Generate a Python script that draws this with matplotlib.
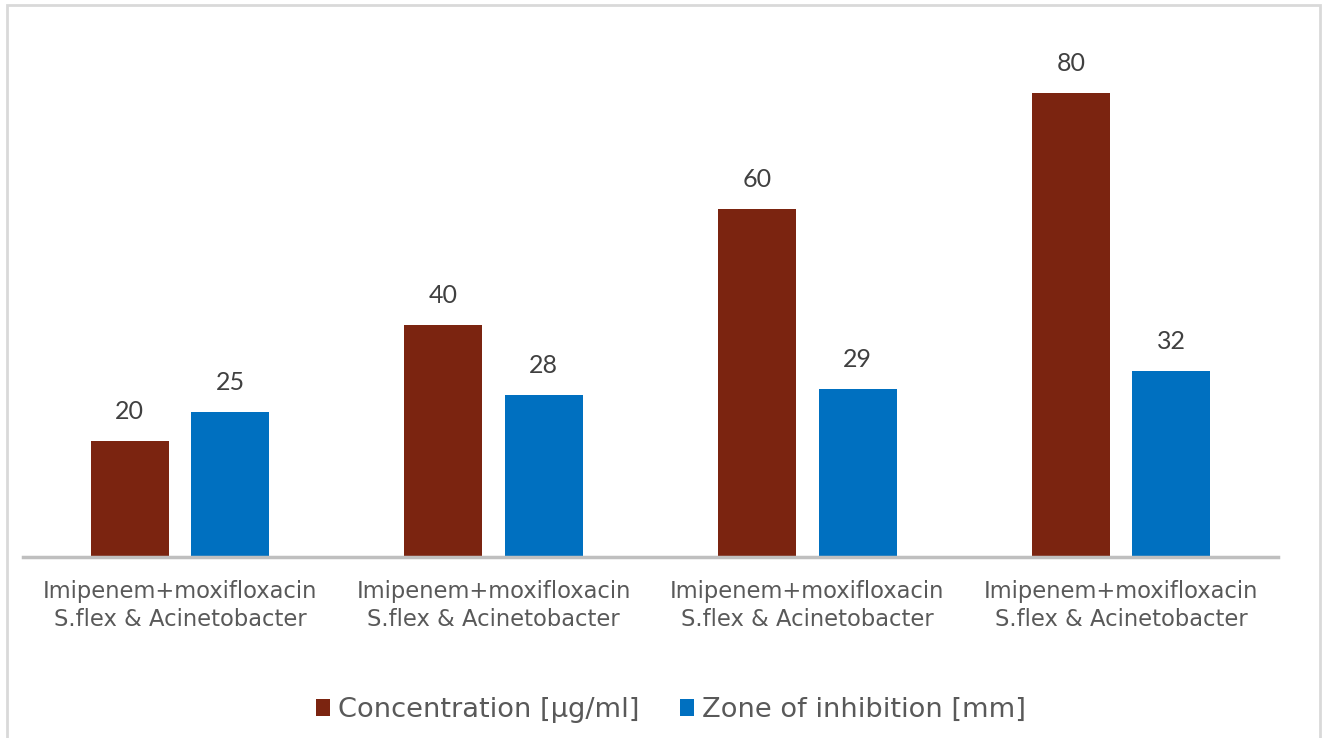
import matplotlib
matplotlib.use("Agg")
import matplotlib.pyplot as plt
from matplotlib.patches import Rectangle
import numpy as np

categories = ["Imipenem+moxifloxacin\nS.flex & Acinetobacter"] * 4
concentration = [20, 40, 60, 80]
inhibition = [25, 28, 29, 32]
series_names = ["Concentration [µg/ml]", "Zone of inhibition [mm]"]

plt.rcParams["font.family"] = ["DejaVu Sans"]
TEXT = "#595959"
RED = "#7B2410"
BLUE = "#0070C0"

W, H = 1325, 738
fig = plt.figure(figsize=(W / 100, H / 100), dpi=100)

# outer frame of the chart area
fig.patches.append(Rectangle((7 / W, -0.05), (1320 - 7) / W, 1.05 - 5 / H,
                             transform=fig.transFigure, fill=False,
                             edgecolor="#D9D9D9", linewidth=2))

ymax = 90
top_px = 557 - ymax * 5.8
ax = fig.add_axes([23 / W, (H - 557) / H, (1278 - 23) / W, (557 - top_px) / H])

x = np.arange(len(categories))
bw = 0.249
off = 0.16
b1 = ax.bar(x - off, concentration, bw, color=RED, label=series_names[0])
b2 = ax.bar(x + off, inhibition, bw, color=BLUE, label=series_names[1])

for bars in (b1, b2):
    for rect in bars:
        ax.annotate(f"{rect.get_height():g}",
                    (rect.get_x() + rect.get_width() / 2, rect.get_height()),
                    xytext=(0, 13), textcoords="offset points",
                    ha="center", va="bottom", fontsize=18, color="#404040",
                    family="Lato")

ax.set_xlim(-0.5, len(categories) - 0.5)
ax.set_ylim(0, ymax)
ax.set_yticks([])
ax.set_xticks(x)
ax.set_xticklabels(categories, fontsize=16.3, color=TEXT, linespacing=1.3)
ax.tick_params(axis="x", length=0, pad=16.5)
for s in ("top", "right", "left"):
    ax.spines[s].set_visible(False)
ax.spines["bottom"].set_color("#BFBFBF")
ax.spines["bottom"].set_linewidth(2.5)

fig.legend(handles=[b1, b2], loc="center", bbox_to_anchor=(671 / W, 1 - 710 / H),
           ncol=2, frameon=False, fontsize=19.6, labelcolor=TEXT,
           handlelength=0.5, handleheight=0.6, handletextpad=0.3, columnspacing=1.5)

fig.savefig("out.png", dpi=100, facecolor="white")
